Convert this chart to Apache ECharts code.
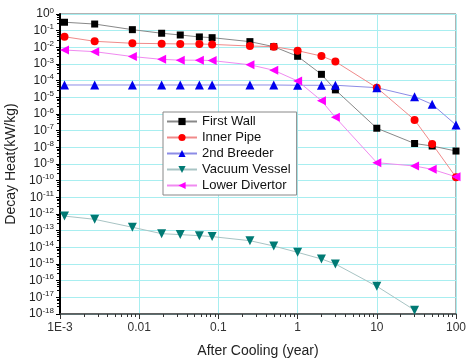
<!DOCTYPE html>
<html><head><meta charset="utf-8">
<script src="https://cdn.jsdelivr.net/npm/echarts@6/dist/echarts.min.js"></script>
<style>html,body{margin:0;padding:0;background:#fff}#c{width:466px;height:358px}</style>
</head><body><div id="c"></div>
<script>
const times = [0.00114, 0.00274, 0.0082, 0.0192, 0.033, 0.0575, 0.0833, 0.25, 0.5, 1, 2, 3, 10, 30, 50, 100];
const firstWall = [0.32, 0.25, 0.115, 0.07, 0.055, 0.042, 0.038, 0.022, 0.011, 0.0029, 2.4e-4, 2.8e-5, 1.4e-7, 1.7e-8, 1.2e-8, 6e-9];
const innerPipe = [0.043, 0.023, 0.0175, 0.0166, 0.016, 0.016, 0.015, 0.012, 0.011, 0.0063, 0.003, 0.0014, 3.8e-5, 4.4e-7, 1.6e-8, 1.6e-10];
const breeder2 = [5.5e-5, 5.5e-5, 5.5e-5, 5.5e-5, 5.5e-5, 5.5e-5, 5.5e-5, 5.5e-5, 5.5e-5, 5.3e-5, 5.3e-5, 5.3e-5, 3.8e-5, 1.1e-5, 3.8e-6, 2.2e-7];
const vacuumVessel = [7.5e-13, 4.8e-13, 1.6e-13, 6.6e-14, 5.8e-14, 5e-14, 4.4e-14, 2.5e-14, 1.2e-14, 5e-15, 2e-15, 1e-15, 4.6e-17, 1.7e-18];
const lowerDivertor = [0.0069, 0.0055, 0.0028, 0.0019, 0.0017, 0.0017, 0.0016, 9e-4, 4.2e-4, 9.6e-5, 6.3e-6, 6.3e-7, 1.2e-9, 7.6e-10, 4.8e-10, 1.7e-10];
const seriesNames = ['First Wall', 'Inner Pipe', '2nd Breeder', 'Vacuum Vessel', 'Lower Divertor'];

function pairs(vals){ return vals.map((v,i)=>[times[i], v]); }

const chart = echarts.init(document.getElementById('c'), null, {renderer:'canvas'});
const font = '"Liberation Sans", Arial, sans-serif';
function mk(name, vals, symbol, rot, mColor, lColor, size){
  return {name, type:'line', data:pairs(vals), symbol, symbolRotate:rot, symbolSize:size,
    itemStyle:{color:mColor}, lineStyle:{color:lColor, width:1}, emphasis:{disabled:true}, animation:false};
}
chart.setOption({
  animation:false,
  textStyle:{fontFamily:font},
  grid:{left:60, right:10, top:14, bottom:44, containLabel:false, outerBoundsMode:'none',
    show:true, borderColor:'#666', borderWidth:1, backgroundColor:'#fff'},
  legend:{orient:'vertical', left:163, top:112, itemWidth:30, itemHeight:9, itemGap:3,
    padding:[3,6,3,3], borderColor:'#888', borderWidth:1, backgroundColor:'#fff',
    textStyle:{fontSize:13, color:'#111', fontFamily:font}, data:seriesNames},
  xAxis:{type:'log', logBase:10, min:0.001, max:100, interval:1,
    name:'After Cooling (year)', nameLocation:'middle', nameGap:30,
    nameTextStyle:{fontSize:14, color:'#222', fontFamily:font},
    axisLine:{lineStyle:{color:'#444', width:1.5}},
    axisTick:{show:true, length:5, lineStyle:{color:'#333'}},
    minorTick:{show:true, splitNumber:9, length:3, lineStyle:{color:'#333'}},
    splitLine:{show:true, lineStyle:{color:'#a8eef0', width:1}},
    axisLabel:{fontSize:12, color:'#333', margin:8, fontFamily:font,
      formatter:v=>{ if(v<0.005) return '1E-3'; return String(+v.toPrecision(1)); }}},
  yAxis:{type:'log', logBase:10, min:1e-18, max:1, interval:1,
    name:'Decay Heat(kW/kg)', nameLocation:'middle', nameGap:42,
    nameTextStyle:{fontSize:14, color:'#222', fontFamily:font},
    axisLine:{lineStyle:{color:'#000', width:2}},
    axisTick:{show:true, length:4, lineStyle:{color:'#000'}},
    minorTick:{show:true, splitNumber:5, length:3, lineStyle:{color:'#000'}},
    splitLine:{show:true, lineStyle:{color:'#a8eef0', width:1}},
    axisLabel:{margin:6, fontFamily:font,
      formatter:v=>{ const e=Math.round(Math.log10(v)); return '{b|10}{s|'+e+'}'; },
      rich:{b:{fontSize:12, color:'#222', fontFamily:font}, s:{fontSize:8, color:'#222', padding:[0,0,7,0], fontFamily:font}}}},
  series:[
    mk('First Wall', firstWall, 'rect', 0, '#000', '#888', 7),
    mk('Inner Pipe', innerPipe, 'circle', 0, '#ff0000', '#f08a8a', 8),
    mk('2nd Breeder', breeder2, 'triangle', 0, '#0000ee', '#8c8ce6', 9),
    mk('Vacuum Vessel', vacuumVessel, 'triangle', 180, '#007a74', '#a8c4c4', 9),
    mk('Lower Divertor', lowerDivertor, 'triangle', 90, '#ff00ff', '#f08af0', 9)
  ]
});
</script></body></html>
